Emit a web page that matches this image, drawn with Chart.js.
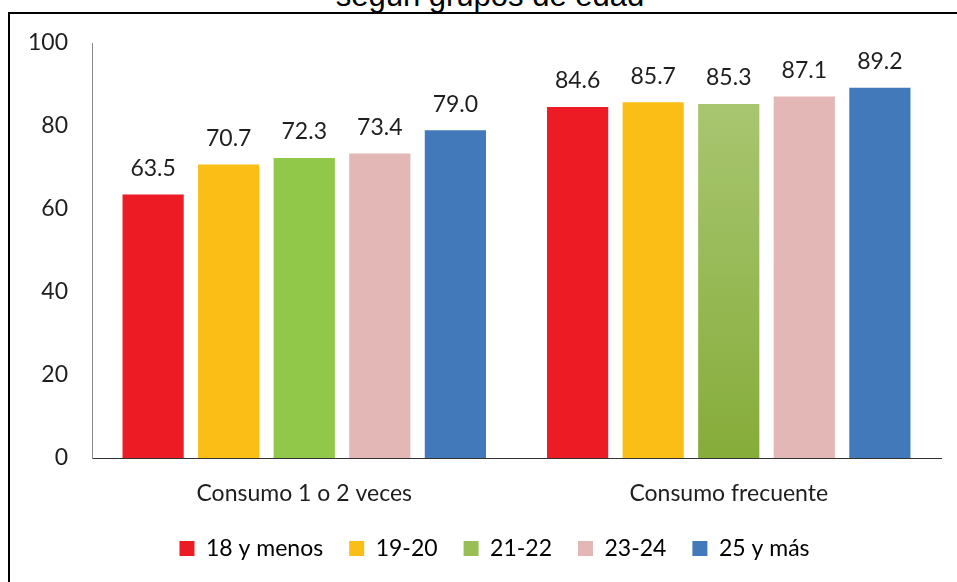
<!DOCTYPE html>
<html>
<head>
<meta charset="utf-8">
<script src="https://cdn.jsdelivr.net/npm/chart.js@4.4.1/dist/chart.umd.min.js"></script>
<style>
    html, body { margin: 0; padding: 0; background: #fff; overflow: hidden; }
    #wrap { position: relative; width: 957px; height: 582px; }
    #frame { position: absolute; left: 8px; top: 12px; right: -10px; bottom: -10px;
             border-left: 2px solid #000; border-top: 2px solid #000; }
    #title { position: absolute; left: 0; width: 980px; top: -20px; text-align: center;
             font: 31px "Liberation Sans", Arial, sans-serif; line-height: 31px; color: #000; }
    canvas { position: absolute; left: 0; top: 0; }
</style>
</head>
<body>
<div id="wrap">
    <div id="frame"></div>
    <div id="title">según grupos de edad</div>
    <canvas id="chart" width="957" height="582"></canvas>
</div>
<script>
const categories = ['Consumo 1 o 2 veces', 'Consumo frecuente'];
const ageGroups = ['18 y menos', '19-20', '21-22', '23-24', '25 y más'];
const values18 = [63.5, 84.6];
const values1920 = [70.7, 85.7];
const values2122 = [72.3, 85.3];
const values2324 = [73.4, 87.1];
const values25 = [79.0, 89.2];
const yTicks = [0, 20, 40, 60, 80, 100];

const colors = ['#ED1C24', '#FBBE16', '#92C84A', '#E3B7B5', '#4279BB'];
const FONT = 'Lato, "Noto Sans", sans-serif';
const TEXT = '#1e1e1e';

// second green bar has a top-to-bottom gradient in the original
function greenFill(ctx) {
    if (ctx.dataIndex !== 1) return colors[2];
    const area = ctx.chart.chartArea;
    if (!area) return colors[2];
    const g = ctx.chart.ctx.createLinearGradient(0, area.top + 60, 0, area.bottom);
    g.addColorStop(0, '#A8C670');
    g.addColorStop(1, '#86AC3A');
    return g;
}

const valueLabels = {
    id: 'valueLabels',
    afterDatasetsDraw(chart) {
        const c = chart.ctx;
        c.save();
        c.font = '23px ' + FONT;
        c.fillStyle = TEXT;
        c.textAlign = 'center';
        c.textBaseline = 'middle';
        chart.data.datasets.forEach((ds, i) => {
            chart.getDatasetMeta(i).data.forEach((bar, j) => {
                c.fillText(ds.data[j].toFixed(1), bar.x, bar.y - 26);
            });
        });
        c.restore();
    }
};

// legend in the original sits a little right of the canvas centre
const legendShift = {
    id: 'legendShift',
    afterLayout(chart) {
        if (chart.legend) {
            chart.legend.left += 24;
            chart.legend.right += 24;
        }
    }
};

const seriesData = [values18, values1920, values2122, values2324, values25];

new Chart(document.getElementById('chart'), {
    type: 'bar',
    data: {
        labels: categories,
        datasets: ageGroups.map((name, i) => ({
            label: name,
            data: seriesData[i],
            backgroundColor: i === 2 ? greenFill : colors[i],
            borderWidth: 0,
            categoryPercentage: 0.89,
            barPercentage: 0.81
        }))
    },
    options: {
        responsive: false,
        animation: false,
        layout: { padding: { top: 43, right: 16, left: 0, bottom: 12 } },
        plugins: {
            legend: {
                position: 'bottom',
                labels: {
                    font: { family: FONT, size: 23 },
                    color: TEXT,
                    boxWidth: 15,
                    boxHeight: 15,
                    padding: 26,
                    generateLabels(chart) {
                        return ageGroups.map((name, i) => ({
                            text: name,
                            fillStyle: i === 2 ? '#98BE55' : colors[i],
                            strokeStyle: 'rgba(0,0,0,0)',
                            lineWidth: 0,
                            datasetIndex: i
                        }));
                    }
                }
            },
            tooltip: { enabled: false }
        },
        scales: {
            x: {
                grid: { display: false, drawTicks: false },
                border: { color: '#333', width: 1 },
                ticks: { font: { family: FONT, size: 23 }, color: TEXT, padding: 22 },
                afterFit(scale) { scale.height = 53; }
            },
            y: {
                min: 0,
                max: 100,
                afterBuildTicks(scale) { scale.ticks = yTicks.map(v => ({ value: v })); },
                grid: { display: false, drawTicks: false },
                border: { color: '#888', width: 1 },
                ticks: { font: { family: FONT, size: 23 }, color: TEXT, padding: 24 },
                afterFit(scale) { scale.width = 92; }
            }
        }
    },
    plugins: [valueLabels, legendShift]
});
</script>
</body>
</html>
